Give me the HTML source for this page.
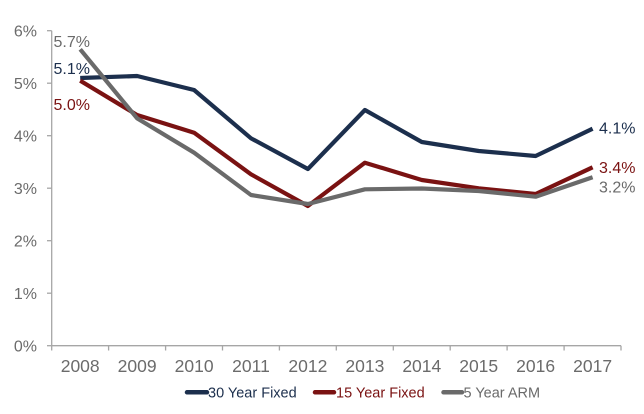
<!DOCTYPE html>
<html>
<head>
<meta charset="utf-8">
<style>
  html,body{margin:0;padding:0;background:#fff;}
  svg{display:block;}
  text{font-family:"Liberation Sans",Arial,sans-serif;}
</style>
</head>
<body>
<svg width="644" height="414" viewBox="0 0 644 414" xmlns="http://www.w3.org/2000/svg">
  <rect width="644" height="414" fill="#fff"/>
  <!-- axes -->
  <g stroke="#a6a6a6" stroke-width="1.3" fill="none">
    <line x1="51.7" y1="30.7" x2="51.7" y2="345.7"/>
    <line x1="51.7" y1="345.7" x2="621" y2="345.7"/>
    <!-- y ticks -->
    <line x1="47" y1="30.7" x2="51.7" y2="30.7"/>
    <line x1="47" y1="83.2" x2="51.7" y2="83.2"/>
    <line x1="47" y1="135.7" x2="51.7" y2="135.7"/>
    <line x1="47" y1="188.2" x2="51.7" y2="188.2"/>
    <line x1="47" y1="240.7" x2="51.7" y2="240.7"/>
    <line x1="47" y1="293.2" x2="51.7" y2="293.2"/>
    <line x1="47" y1="345.7" x2="51.7" y2="345.7"/>
    <!-- x ticks -->
    <line x1="51.7" y1="345.7" x2="51.7" y2="350.5"/>
    <line x1="108.6" y1="345.7" x2="108.6" y2="350.5"/>
    <line x1="165.6" y1="345.7" x2="165.6" y2="350.5"/>
    <line x1="222.5" y1="345.7" x2="222.5" y2="350.5"/>
    <line x1="279.4" y1="345.7" x2="279.4" y2="350.5"/>
    <line x1="336.3" y1="345.7" x2="336.3" y2="350.5"/>
    <line x1="393.3" y1="345.7" x2="393.3" y2="350.5"/>
    <line x1="450.2" y1="345.7" x2="450.2" y2="350.5"/>
    <line x1="507.1" y1="345.7" x2="507.1" y2="350.5"/>
    <line x1="564.1" y1="345.7" x2="564.1" y2="350.5"/>
    <line x1="621" y1="345.7" x2="621" y2="350.5"/>
  </g>
  <!-- y labels -->
  <g fill="#6b6b6b" font-size="16" text-anchor="end">
    <text x="37" y="36.5">6%</text>
    <text x="37" y="89">5%</text>
    <text x="37" y="141.5">4%</text>
    <text x="37" y="194">3%</text>
    <text x="37" y="246.5">2%</text>
    <text x="37" y="299">1%</text>
    <text x="37" y="351.5">0%</text>
  </g>
  <!-- x labels -->
  <g fill="#6b6b6b" font-size="17.5" text-anchor="middle">
    <text x="80.2" y="372">2008</text>
    <text x="137.1" y="372">2009</text>
    <text x="194.1" y="372">2010</text>
    <text x="251" y="372">2011</text>
    <text x="307.9" y="372">2012</text>
    <text x="364.9" y="372">2013</text>
    <text x="421.8" y="372">2014</text>
    <text x="478.7" y="372">2015</text>
    <text x="535.6" y="372">2016</text>
    <text x="592.6" y="372">2017</text>
  </g>
  <!-- series -->
  <g fill="none" stroke-width="4.2" stroke-linejoin="round">
    <polyline stroke="#1c2f4d" points="80.2,78 137.1,76 194.1,90 251,138.3 307.9,169 364.9,110 421.8,142 478.7,151 535.6,156 592.6,128.7"/>
    <polyline stroke="#7a1212" points="80.2,80.7 137.1,115 194.1,132.7 251,174.3 307.9,206 364.9,162.7 421.8,180 478.7,188.3 535.6,194 592.6,167.3"/>
    <polyline stroke="#6a6a6a" points="80.2,49.3 137.1,118.3 194.1,152.7 251,195 307.9,204 364.9,189.3 421.8,188.5 478.7,191 535.6,196.7 592.6,177.3"/>
  </g>
  <!-- data labels -->
  <g font-size="16">
    <text x="53.5" y="47" fill="#6a6a6a">5.7%</text>
    <text x="53.5" y="74" fill="#1c2f4d">5.1%</text>
    <text x="53.5" y="110" fill="#7a1212">5.0%</text>
    <text x="599" y="133.5" fill="#1c2f4d">4.1%</text>
    <text x="599" y="173" fill="#7a1212">3.4%</text>
    <text x="599" y="192.5" fill="#6a6a6a">3.2%</text>
  </g>
  <!-- legend -->
  <g stroke-width="4.5" stroke-linecap="round">
    <line x1="187" y1="392.3" x2="207" y2="392.3" stroke="#1c2f4d"/>
    <line x1="315" y1="392.3" x2="334" y2="392.3" stroke="#7a1212"/>
    <line x1="443.5" y1="392.3" x2="462" y2="392.3" stroke="#6a6a6a"/>
  </g>
  <g font-size="14.5">
    <text x="208" y="397.5" fill="#1c2f4d">30 Year Fixed</text>
    <text x="336" y="397.5" fill="#7a1212">15 Year Fixed</text>
    <text x="463.5" y="397.5" fill="#6a6a6a">5 Year ARM</text>
  </g>
</svg>
</body>
</html>
